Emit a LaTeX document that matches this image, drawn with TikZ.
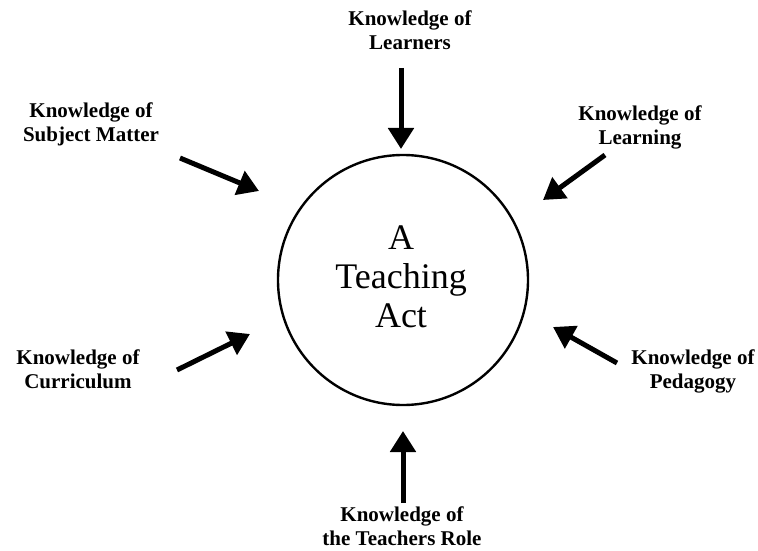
\documentclass[tikz,border=0pt]{standalone}
\usepackage{fontspec}
\setmainfont{Liberation Serif}
\usetikzlibrary{arrows.meta}
\begin{document}
\begin{tikzpicture}[x=1pt,y=1pt,
  lbl/.style={font=\fontsize{21}{24}\selectfont\bfseries, align=center, anchor=base, inner sep=0pt},
  feed/.style={line width=5pt, -{Triangle[length=21pt,width=25pt]}},
  act/.style={circle, draw, line width=2.4pt, minimum size=250pt, inner sep=0pt}]
  % page frame
  \fill[white] (0,0) rectangle (758,550);
  \useasboundingbox (0,0) rectangle (758,550);

  % central circle with its caption (anchored at the last baseline)
  \node[act] (actc) at (403,270) {};
  \node[font=\fontsize{36}{39}\selectfont, align=center, anchor=base, inner sep=0pt] (acttext) at (401,223) {A\\Teaching\\Act};

  % the six knowledge domains (anchored at the last baseline)
  \node[lbl] (learners)   at (410,500) {Knowledge of\\Learners};
  \node[lbl] (subject)    at (91,408)  {Knowledge of\\Subject Matter};
  \node[lbl] (learning)   at (640,405) {Knowledge of\\Learning};
  \node[lbl] (curriculum) at (78,162)  {Knowledge of\\Curriculum};
  \node[lbl] (pedagogy)   at (693,162) {Knowledge of\\Pedagogy};
  \node[lbl] (role)       at (402,5)   {Knowledge of\\the Teachers Role};

  % arrow ends
  \coordinate (learnersA) at (401,482);  \coordinate (learnersB) at (401,401);
  \coordinate (subjectA) at (180,392);   \coordinate (subjectB) at (259,359);
  \coordinate (learningA) at (605,395);  \coordinate (learningB) at (543,350);
  \coordinate (curriculumA) at (177,180);\coordinate (curriculumB) at (250,216);
  \coordinate (pedagogyA) at (617,187);  \coordinate (pedagogyB) at (553,223);
  \coordinate (roleA) at (403,47);       \coordinate (roleB) at (403,119);

  \draw[feed] (learnersA) -- (learnersB);
  \draw[feed] (subjectA) -- (subjectB);
  \draw[feed] (learningA) -- (learningB);
  \draw[feed] (curriculumA) -- (curriculumB);
  \draw[feed] (pedagogyA) -- (pedagogyB);
  \draw[feed] (roleA) -- (roleB);
\end{tikzpicture}
\end{document}
